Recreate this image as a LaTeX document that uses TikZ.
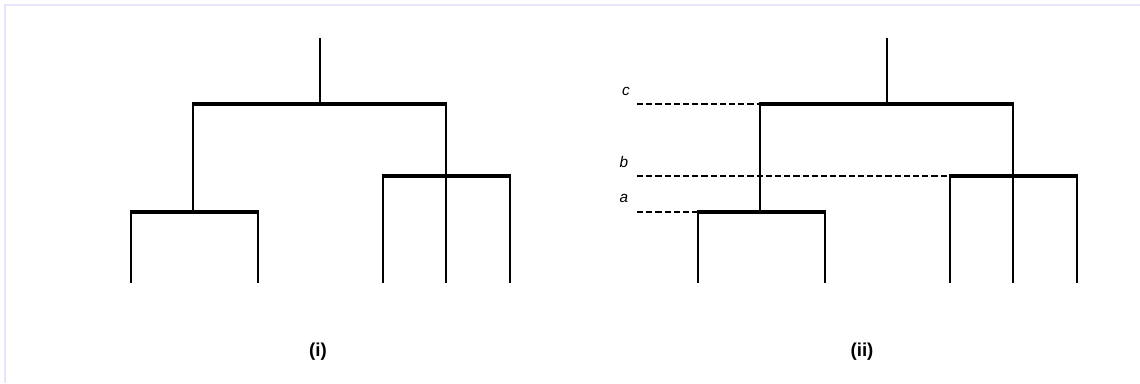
\documentclass[tikz,border=0pt]{standalone}
\usepackage{fontspec}
\setmainfont{Liberation Sans}
\begin{document}
\begin{tikzpicture}[x=0.75pt,y=-0.75pt,
  stem/.style={line width=2.1pt,line cap=butt},
  bar/.style={line width=3.6pt,line cap=butt},
  guide/.style={line width=1.9pt,dash pattern=on 4.6pt off 2.3pt},
  lvl/.style={font=\itshape\fontsize{11.5}{13}\selectfont,inner sep=0pt},
  captext/.style={font=\bfseries\fontsize{14}{16}\selectfont,inner sep=0pt},
  frame/.style={draw=black!10!blue!10!white,line width=1.5pt}]
\useasboundingbox (0,0) rectangle (1140,383);
\draw[frame] (5,383) -- (5,5) -- (1140,5);
% ---------- trees (i) and (ii) ----------
\foreach \p/\o in {L/0,R/567}{
  \coordinate (\p top)  at (320+\o,38);
  \coordinate (\p r)    at (320+\o,104);
  \coordinate (\p rl)   at (193+\o,104);
  \coordinate (\p rr)   at (446+\o,104);
  \coordinate (\p a)    at (193+\o,212);
  \coordinate (\p al)   at (131+\o,212);
  \coordinate (\p ar)   at (258+\o,212);
  \coordinate (\p b)    at (446+\o,176);
  \coordinate (\p bl)   at (383+\o,176);
  \coordinate (\p br)   at (510+\o,176);
  \coordinate (\p l1)   at (131+\o,283);
  \coordinate (\p l2)   at (258+\o,283);
  \coordinate (\p l3)   at (383+\o,283);
  \coordinate (\p l4)   at (446+\o,283);
  \coordinate (\p l5)   at (510+\o,283);
  \draw[stem] (\p top) -- (\p r);
  \draw[stem] (\p rl) -- (\p a);
  \draw[stem] (\p rr) -- (\p l4);
  \draw[stem] (\p al) -- (\p l1);
  \draw[stem] (\p ar) -- (\p l2);
  \draw[stem] (\p bl) -- (\p l3);
  \draw[stem] (\p br) -- (\p l5);
  \draw[bar] ([xshift=-0.9pt]\p rl) -- ([xshift=0.9pt]\p rr);
  \draw[bar] ([xshift=-0.9pt]\p al) -- ([xshift=0.9pt]\p ar);
  \draw[bar] ([xshift=-0.9pt]\p bl) -- ([xshift=0.9pt]\p br);
}
% ---------- guides on (ii) ----------
\coordinate (gc) at (637,104);
\coordinate (gb) at (637,176);
\coordinate (ga) at (637,212);
\draw[guide] (gc) -- (Rrl);
\draw[guide] (gb) -- (Rbl);
\draw[guide] (ga) -- (Ral);
\node[lvl] (lc) at (626,91) {c};
\node[lvl] (lb) at (624,162) {b};
\node[lvl] (la) at (624,198) {a};
\node[captext] (ci) at (318,352) {(i)};
\node[captext] (cii) at (862,352) {(ii)};
\end{tikzpicture}
\end{document}
